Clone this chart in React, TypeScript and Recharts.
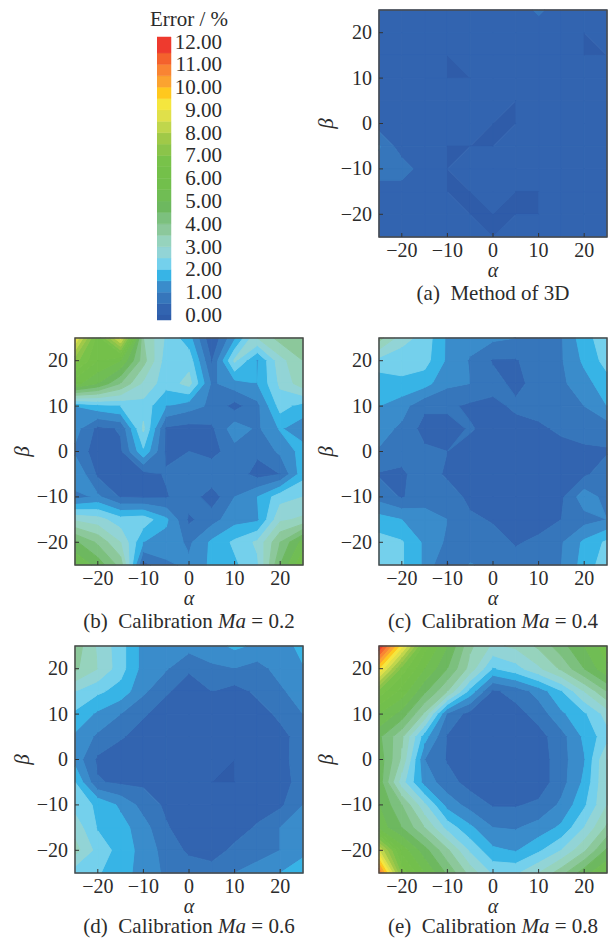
import { Bar, BarChart, ReferenceArea, Scatter, ScatterChart, XAxis, YAxis } from "recharts";

// grid axes (rows of every panel run from beta = 25 down to beta = -25)
const ALPHA = [-25, -20, -15, -10, -5, 0, 5, 10, 15, 20, 25];
const BETA = [25, 20, 15, 10, 5, 0, -5, -10, -15, -20, -25];
const AXIS_TICKS = [-20, -10, 0, 10, 20];
const BAR_TICKS = [0, 1, 2, 3, 4, 5, 6, 7, 8, 9, 10, 11, 12];

// contour levels, one colour per band
const LEVELS = [-1, 0, 0.5, 1, 1.5, 2, 2.5, 3, 3.5, 4, 4.5, 5, 5.5, 6, 6.5, 7, 7.5, 8, 8.5, 9, 9.5, 10, 10.5, 11, 11.5, 100];
const BAND_COLORS = [
  "#2f5ca9", "#3264b0", "#3676bb", "#3a8ccb", "#37b4e6", "#74d0ec", "#92d4d6", "#96d3bd", "#8cc89b",
  "#7cc07e", "#6db85f", "#70bd54", "#72bf4c", "#74c04a", "#78c24a", "#8bc44a", "#a0c948", "#c0d64c",
  "#e0e04a", "#f5e63e", "#ffc81e", "#fba330", "#f98433", "#f4622d", "#ee3a2e",
];
// extent of each colourbar segment, in error units
const BAR_SEGMENTS = [-0.22, 0.5, 0.5, 0.5, 0.5, 0.5, 0.5, 0.5, 0.5, 0.5, 0.5, 0.5, 0.5, 0.5, 0.5, 0.5, 0.5, 0.5, 0.5, 0.5, 0.5, 0.5, 0.5, 0.5, 0.7];

const METHOD_3D = [
  [0.2, 0.2, 0.2, 0.2, 0.2, 0.2, 0.2, 0.6, 0.2, 0.2, 0.2],
  [0.2, 0.2, 0.2, 0.2, 0.2, 0.2, 0.2, 0.2, 0.2, 0, 0.2],
  [0.2, 0.2, 0.2, 0, 0.2, 0.2, 0.2, 0.2, 0.2, -0.002, 0],
  [0.2, 0.2, 0.2, -0.002, 0, 0.2, 0.2, 0.2, 0.2, 0.2, 0.2],
  [0.2, 0.2, 0.2, 0.2, 0.2, 0.2, 0, 0.2, 0.2, 0.2, 0.2],
  [0.2, 0.2, 0.2, 0.2, 0.2, -0.002, -0.002, 0.2, 0.2, 0.2, 0.2],
  [1.05, 0.2, 0.2, -0.002, 0, -0.002, 0.2, 0.2, 0.2, 0.2, 0.2],
  [0.8, 0.8, 0.2, 0, 0.2, 0.2, 0.2, 0.2, 0.2, 0.2, 0.2],
  [0.2, 0.2, 0.2, -0.002, -0.002, 0.2, -0.002, -0.002, 0.2, 0.2, 0.2],
  [0.2, 0.2, 0.2, 0.2, -0.002, -0.002, -0.002, -0.002, 0.2, 0.2, 0.2],
  [0.2, 0.2, 0.2, 0.2, 0.2, 0, 0.2, 0.2, 0.2, 0.2, 0.2],
];
const CAL_MA_02 = [
  [9.0, 6.2, 8.7, 3.5, 2.4, 1.7, 0.05, 1.4, 3.0, 3.7, 3.6],
  [7.2, 6.0, 5.5, 3.7, 2.2, 2.3, 0.45, 2.6, 1.45, 2.8, 3.5],
  [5.7, 5.0, 4.0, 2.9, 2.2, 2.7, 0.9, 1.3, 1.5, 2.6, 3.3],
  [1.5, 1.8, 2.0, 2.3, 1.5, 1.2, 0.9, 0.3, 0.85, 2.2, 1.8],
  [1.2, 0.35, 0.55, 2.6, 0.4, 0.3, 0.4, 1.3, 0.9, 1.55, 1.2],
  [0.9, 0.2, 0.4, 1.9, 0.4, 0.5, 0.3, 0.8, 0.6, 1.1, 1.7],
  [1.5, 0.4, 0.3, 0.3, 0.55, 0.8, 0.9, 0.8, 0.3, 0.5, 1.8],
  [0.8, 1.1, 0.45, 0.4, 0.45, 0.8, 0.2, 1.0, 1.5, 2.3, 2.5],
  [2.9, 2.7, 2.2, 2.3, 1.6, 0.4, 0.8, 1.3, 1.4, 2.9, 3.1],
  [4.6, 3.9, 3.0, 1.5, 1.3, 0.9, 1.6, 2.1, 2.6, 4.0, 5.2],
  [5.5, 4.8, 3.8, 0.3, 0.9, 1.1, 1.6, 1.9, 2.4, 4.5, 6.0],
];
const CAL_MA_04 = [
  [3.7, 2.7, 2.3, 1.4, 1.2, 1.1, 1.0, 0.8, 0.95, 1.8, 2.3],
  [2.3, 2.2, 2.2, 1.4, 0.95, 0.45, 0.45, 0.8, 0.95, 1.6, 2.2],
  [1.7, 1.9, 1.7, 1.1, 1.0, 0.7, 0.35, 0.7, 0.9, 1.3, 1.8],
  [1.5, 1.2, 0.6, 0.6, 0.4, 0.35, 0.6, 0.7, 0.8, 1.0, 1.5],
  [1.2, 0.9, 0.3, 0.3, 0.55, 0.3, 0.3, 0.4, 0.6, 0.7, 0.7],
  [0.95, 0.7, 0.6, 0.5, 0.3, 0.2, 0.2, 0.2, 0.3, 0.4, 0.45],
  [0.45, 0.4, 0.8, 0.4, 0.2, 0.2, 0.2, 0.2, 0.2, 0.4, 0.8],
  [0.8, 0.45, 0.8, 0.8, 0.35, 0.2, 0.2, 0.2, 0.4, 1.3, 0.8],
  [1.7, 1.5, 1.2, 1.0, 0.6, 0.45, 0.3, 0.3, 0.5, 0.8, 1.0],
  [2.2, 2.05, 1.4, 0.9, 0.55, 0.7, 0.45, 0.6, 0.95, 1.6, 2.1],
  [2.4, 2.05, 1.4, 0.4, 1.05, 0.8, 0.7, 0.8, 1.0, 1.7, 2.3],
];
const CAL_MA_06 = [
  [3.8, 2.9, 2.2, 1.3, 1.0, 1.2, 1.3, 1.6, 1.4, 1.2, 1.7],
  [3.6, 3.0, 2.2, 1.3, 1.05, 0.55, 0.9, 0.98, 0.8, 1.2, 1.45],
  [2.5, 2.1, 1.8, 1.1, 0.55, 0.3, 0.5, 0.3, 0.6, 0.9, 1.3],
  [1.9, 1.4, 1.0, 0.55, 0.3, 0.2, 0.2, 0.2, 0.3, 0.6, 1.0],
  [1.4, 0.9, 0.55, 0.3, 0.2, 0.2, 0.2, 0.2, 0.2, 0.35, 0.7],
  [1.3, 0.4, 0.2, 0.2, 0.2, 0.2, 0.2, 0, 0.2, 0.3, 0.8],
  [2.0, 0.55, 0.4, 0.4, 0.2, 0.2, 0, -0.002, 0.2, 0.3, 0.7],
  [2.3, 1.9, 1.4, 0.8, 0.4, 0.2, 0.2, 0.2, 0.3, 0.4, 1.0],
  [2.8, 1.95, 1.7, 1.2, 0.55, 0.2, 0.2, 0.3, 0.55, 1.0, 1.3],
  [3.2, 2.3, 1.8, 1.3, 0.8, 0.4, 0.3, 0.6, 0.8, 1.0, 1.3],
  [2.2, 2.05, 1.7, 1.3, 0.9, 0.8, 0.7, 1.0, 1.2, 1.5, 1.9],
];
const CAL_MA_08 = [
  [12, 9.2, 6.2, 5.0, 3.6, 2.9, 3.1, 3.6, 4.3, 5.0, 5.8],
  [9.5, 6.8, 5.5, 4.5, 3.3, 1.95, 2.3, 2.9, 3.6, 4.5, 5.4],
  [6.8, 5.8, 4.6, 3.5, 1.8, 0.4, 0.7, 1.2, 1.95, 3.0, 4.0],
  [5.5, 4.8, 3.4, 0.9, 0.3, 0.2, 0.3, 0.7, 1.4, 1.9, 2.7],
  [4.6, 3.6, 1.7, 0.45, 0.2, 0.2, 0.2, 0.3, 0.8, 1.6, 2.3],
  [4.8, 3.4, 1.0, 0.45, 0.2, 0.2, 0.2, 0.2, 0.8, 1.45, 3.0],
  [4.8, 2.7, 1.3, 0.7, 0.3, 0.2, 0.2, 0.2, 0.8, 1.6, 3.0],
  [5.0, 4.0, 2.6, 1.3, 0.8, 0.45, 0.45, 0.6, 1.1, 1.9, 3.0],
  [5.3, 4.5, 3.5, 2.3, 1.6, 1.0, 0.95, 1.2, 1.6, 2.5, 3.6],
  [8.5, 5.8, 4.7, 3.6, 2.4, 1.6, 1.45, 1.9, 2.5, 3.4, 4.6],
  [11, 6.8, 5.5, 4.4, 3.3, 2.4, 2.4, 3.0, 3.8, 4.8, 5.5],
];

const PLOT_W = 228;
const PLOT_H = 227;
const Y_AXIS_W = 70;
const X_AXIS_H = 48;
const CELL_W = PLOT_W / (ALPHA.length - 1);
const CELL_H = PLOT_H / (BETA.length - 1);
const FONT = '"Liberation Serif", serif';
const TEXT_COLOR = "#2b2b2b";

type Cell = { x: number; y: number; z: number[] };

// one entry per grid cell; z runs round the cell from its lower-left corner
function buildCells(grid: number[][]): Cell[] {
  const cells: Cell[] = [];
  for (let r = 0; r < BETA.length - 1; r++) {
    for (let c = 0; c < ALPHA.length - 1; c++) {
      cells.push({
        x: ALPHA[c],
        y: BETA[r + 1],
        z: [grid[r + 1][c], grid[r + 1][c + 1], grid[r][c + 1], grid[r][c]],
      });
    }
  }
  return cells;
}

const CORNERS = [
  [0, 0],
  [CELL_W, 0],
  [CELL_W, -CELL_H],
  [0, -CELL_H],
];

// walks the cell edge and keeps whatever lies inside the band
function bandPolygon(z: number[], lo: number, hi: number) {
  const pts: number[][] = [];
  for (let i = 0; i < 4; i++) {
    const a = z[i];
    const b = z[(i + 1) % 4];
    const p = CORNERS[i];
    const q = CORNERS[(i + 1) % 4];
    if (a >= lo && a < hi) pts.push(p);
    const levels = a < b ? [lo, hi] : [hi, lo];
    for (const t of levels) {
      if (Math.min(a, b) < t && t <= Math.max(a, b)) {
        const f = (t - a) / (b - a);
        pts.push([p[0] + (q[0] - p[0]) * f, p[1] + (q[1] - p[1]) * f]);
      }
    }
  }
  return pts;
}

function ContourCell(props: any) {
  const { cx, cy, payload } = props;
  const polys = [];
  for (let k = 0; k < BAND_COLORS.length; k++) {
    const pts = bandPolygon(payload.z, LEVELS[k], LEVELS[k + 1]);
    if (pts.length < 3) continue;
    polys.push(
      <polygon
        key={k}
        points={pts.map((p) => `${cx + p[0]},${cy + p[1]}`).join(" ")}
        fill={BAND_COLORS[k]}
        stroke={BAND_COLORS[k]}
        strokeWidth={1}
        strokeLinejoin="round"
      />
    );
  }
  return <g>{polys}</g>;
}

function formatTick(v: number) {
  return v < 0 ? `\u2212${Math.abs(v)}` : `${v}`;
}

function XTick({ x, y, payload }: any) {
  return (
    <g>
      <line x1={x} x2={x} y1={y} y2={y - 4} stroke="#333" strokeWidth={1} />
      <text x={x} y={y + 20} textAnchor="middle" fontSize={20} fontFamily={FONT} fill={TEXT_COLOR}>
        {formatTick(payload.value)}
      </text>
    </g>
  );
}

function YTick({ x, y, payload }: any) {
  return (
    <g>
      <line x1={x} x2={x + 4} y1={y} y2={y} stroke="#333" strokeWidth={1} />
      <text x={x - 7} y={y + 6.5} textAnchor="end" fontSize={20} fontFamily={FONT} fill={TEXT_COLOR}>
        {formatTick(payload.value)}
      </text>
    </g>
  );
}

function BarTick({ x, y, payload }: any) {
  return (
    <text x={x + 51} y={y + 7} textAnchor="end" fontSize={21} fontFamily={FONT} fill={TEXT_COLOR}>
      {payload.value.toFixed(2)}
    </text>
  );
}

const CHART_W = Y_AXIS_W + PLOT_W + 4;
const CHART_H = PLOT_H + 4 + X_AXIS_H;
const CHART_MARGIN = { top: 4, right: 4, bottom: 0, left: 0 };
// the overlay chart only needs the axis range to exist, it draws no marks of its own
const AXIS_RANGE = [
  { x: -25, y: -25 },
  { x: 25, y: 25 },
];

type PanelProps = { grid: number[][]; left: number; top: number; caption: React.ReactNode; captionLift?: number };

// the series sits in its own chart; frame and inward ticks go in a second one on top of it
function Panel({ grid, left, top, caption, captionLift = 0 }: PanelProps) {
  return (
    <div style={{ position: "absolute", left: left - Y_AXIS_W, top: top - 4 }}>
      <ScatterChart width={CHART_W} height={CHART_H} margin={CHART_MARGIN}>
        <XAxis type="number" dataKey="x" domain={[-25, 25]} height={X_AXIS_H} axisLine={false} tick={false} tickLine={false} />
        <YAxis type="number" dataKey="y" domain={[-25, 25]} width={Y_AXIS_W} axisLine={false} tick={false} tickLine={false} />
        <Scatter data={buildCells(grid)} dataKey="y" shape={ContourCell} isAnimationActive={false} />
      </ScatterChart>
      <div style={{ position: "absolute", left: 0, top: 0 }}>
        <ScatterChart width={CHART_W} height={CHART_H} margin={CHART_MARGIN}>
          <Scatter data={AXIS_RANGE} dataKey="y" shape={() => <g />} isAnimationActive={false} />
          <XAxis
            type="number"
            dataKey="x"
            domain={[-25, 25]}
            ticks={AXIS_TICKS}
            height={X_AXIS_H}
            axisLine={false}
            tickLine={false}
            tickSize={0}
            tickMargin={0}
            interval={0}
            tick={<XTick />}
            label={{
              value: "\u03b1",
              position: "insideBottom",
              offset: 8,
              style: { fontFamily: FONT, fontSize: 20, fontStyle: "italic", fill: TEXT_COLOR },
            }}
          />
          <YAxis
            type="number"
            dataKey="y"
            domain={[-25, 25]}
            ticks={AXIS_TICKS}
            width={Y_AXIS_W}
            axisLine={false}
            tickLine={false}
            tickSize={0}
            tickMargin={0}
            interval={0}
            tick={<YTick />}
            label={{
              value: "\u03b2",
              angle: -90,
              position: "insideLeft",
              offset: 17,
              style: { fontFamily: FONT, fontSize: 21, fontStyle: "italic", fill: TEXT_COLOR, textAnchor: "middle" },
            }}
          />
          <ReferenceArea x1={-25} x2={25} y1={-25} y2={25} fill="none" stroke="#4a4a4a" strokeWidth={1.5} ifOverflow="visible" />
        </ScatterChart>
      </div>
      <div
        style={{
          position: "absolute",
          left: Y_AXIS_W - 30,
          width: PLOT_W + 60,
          top: PLOT_H + 4 + 47 - captionLift,
          textAlign: "center",
          fontFamily: FONT,
          fontSize: 21,
          lineHeight: "18px",
          color: TEXT_COLOR,
          whiteSpace: "pre",
        }}
      >
        {caption}
      </div>
    </div>
  );
}

function ColorBar() {
  const row: Record<string, number | string> = { name: "Error" };
  BAR_SEGMENTS.forEach((v, i) => {
    row[`s${i}`] = v;
  });
  return (
    <div style={{ position: "absolute", left: 157, top: 27 }}>
      <BarChart
        width={14 + 60}
        height={303}
        data={[row]}
        stackOffset="sign"
        barCategoryGap={0}
        margin={{ top: 10, right: 0, bottom: 10, left: 0 }}
      >
        <XAxis dataKey="name" hide />
        <YAxis
          orientation="right"
          type="number"
          domain={[-0.22, 12.2]}
          ticks={BAR_TICKS}
          width={60}
          axisLine={false}
          tickLine={false}
          tickSize={0}
          tickMargin={0}
          interval={0}
          tick={<BarTick />}
        />
        {BAR_SEGMENTS.map((_, i) => (
          <Bar key={i} dataKey={`s${i}`} stackId="bar" fill={BAND_COLORS[i]} stroke={BAND_COLORS[i]} strokeWidth={0.5} isAnimationActive={false} />
        ))}
      </BarChart>
    </div>
  );
}

export default function App() {
  return (
    <div style={{ position: "absolute", left: 0, top: 0, width: 610, height: 938, background: "#fff", overflow: "hidden" }}>
      <div
        style={{
          position: "absolute",
          left: 129,
          width: 120,
          top: 8,
          textAlign: "center",
          fontFamily: FONT,
          fontSize: 21,
          lineHeight: "22px",
          color: TEXT_COLOR,
        }}
      >
        Error / %
      </div>
      <ColorBar />
      <Panel grid={METHOD_3D} left={379} top={10} caption="(a)  Method of 3D" />
      <Panel grid={CAL_MA_02} left={75} top={338} caption={<>(b)  Calibration <i>Ma</i> = 0.2</>} />
      <Panel grid={CAL_MA_04} left={379} top={338} caption={<>(c)  Calibration <i>Ma</i> = 0.4</>} />
      <Panel grid={CAL_MA_06} left={75} top={646} captionLift={3} caption={<>(d)  Calibration <i>Ma</i> = 0.6</>} />
      <Panel grid={CAL_MA_08} left={379} top={646} captionLift={3} caption={<>(e)  Calibration <i>Ma</i> = 0.8</>} />
    </div>
  );
}
